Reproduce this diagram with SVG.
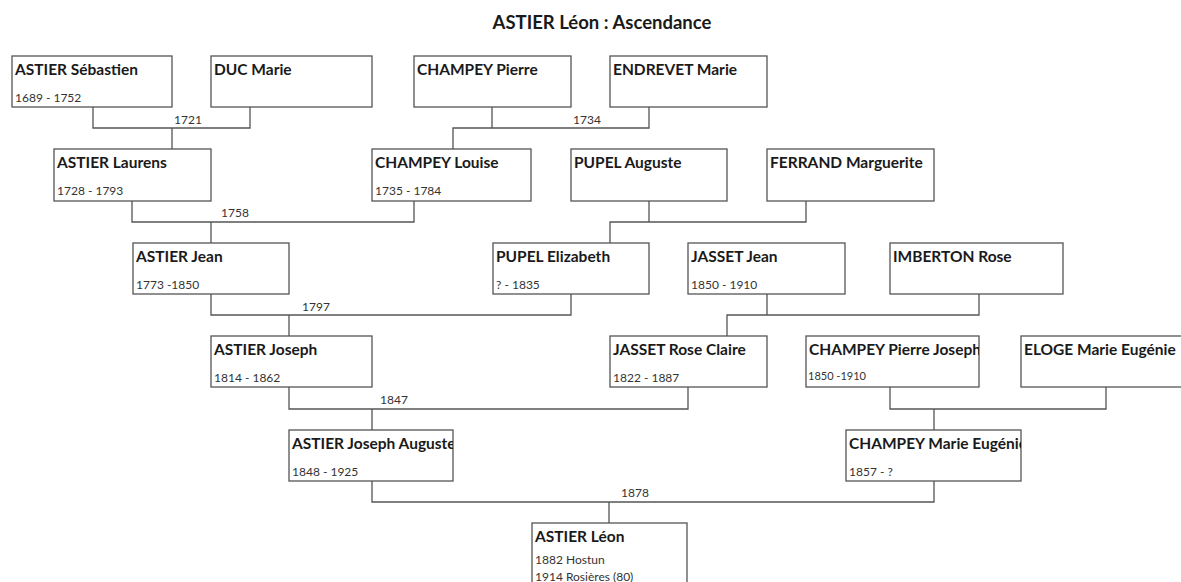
<svg xmlns="http://www.w3.org/2000/svg" width="1181" height="582" viewBox="0 0 1181 582">
  <style>
    .box { fill: #ffffff; stroke: #555555; stroke-width: 1.3; }
    .name { font-family: Lato, "Open Sans", sans-serif; font-weight: bold; font-size: 15.5px; fill: #1a1a1a; }
    .date { font-family: Lato, "Open Sans", sans-serif; font-size: 12px; fill: #333333; }
    .small { font-size: 11px; }
    .title { font-family: Lato, "Open Sans", sans-serif; font-weight: bold; font-size: 18.5px; fill: #1a1a1a; }
    .conn { fill: none; stroke: #555555; stroke-width: 1.3; }
    .lbl { font-family: Lato, "Open Sans", sans-serif; font-size: 12px; fill: #333333; }
  </style>
  <defs>
    <clipPath id="clip-pierre-joseph"><rect x="806" y="336" width="173" height="51"/></clipPath>
    <clipPath id="clip-joseph-auguste"><rect x="289" y="430" width="164" height="51"/></clipPath>
    <clipPath id="clip-marie-eugenie"><rect x="846" y="430" width="175" height="51"/></clipPath>
  </defs>
  <rect width="1181" height="582" fill="#ffffff"/>

  <text class="title" x="602" y="29" text-anchor="middle">ASTIER Léon : Ascendance</text>

  <!-- marriage links: parents' bar, child drop -->
  <g id="connectors">
    <path class="conn" d="M93,107 V128 H250 V107 M172,128 V149"/>
    <path class="conn" d="M492,107 V128 H649 V107 M492,128 H453 V149"/>
    <path class="conn" d="M132,201 V222 H414 V201 M211,222 V243"/>
    <path class="conn" d="M649,201 V222 H806 V201 M649,222 H610 V243"/>
    <path class="conn" d="M211,294 V315 H571 V294 M289,315 V336"/>
    <path class="conn" d="M767,294 V315 H979 V294 M767,315 H727 V336"/>
    <path class="conn" d="M289,387 V409 H688 V387 M372,409 V430"/>
    <path class="conn" d="M890,387 V409 H1106 V387 M934,409 V430"/>
    <path class="conn" d="M372,481 V502 H934 V481 M609,502 V523"/>
    <text class="lbl" x="174" y="124">1721</text>
    <text class="lbl" x="573" y="124">1734</text>
    <text class="lbl" x="221" y="217">1758</text>
    <text class="lbl" x="302" y="311">1797</text>
    <text class="lbl" x="380" y="404">1847</text>
    <text class="lbl" x="621" y="497">1878</text>
  </g>

  <g id="astier-sebastien">
    <rect class="box" x="12" y="56" width="160" height="51"/>
    <text class="name" x="15" y="75">ASTIER Sébastien</text>
    <text class="date" x="15" y="102">1689 - 1752</text>
  </g>
  <g id="duc-marie">
    <rect class="box" x="211" y="56" width="161" height="51"/>
    <text class="name" x="214" y="75">DUC Marie</text>
  </g>
  <g id="champey-pierre">
    <rect class="box" x="414" y="56" width="157" height="51"/>
    <text class="name" x="417" y="75">CHAMPEY Pierre</text>
  </g>
  <g id="endrevet-marie">
    <rect class="box" x="610" y="56" width="157" height="51"/>
    <text class="name" x="613" y="75">ENDREVET Marie</text>
  </g>

  <g id="astier-laurens">
    <rect class="box" x="54" y="149" width="157" height="52"/>
    <text class="name" x="57" y="168">ASTIER Laurens</text>
    <text class="date" x="57" y="195">1728 - 1793</text>
  </g>
  <g id="champey-louise">
    <rect class="box" x="372" y="149" width="159" height="52"/>
    <text class="name" x="375" y="168">CHAMPEY Louise</text>
    <text class="date" x="375" y="195">1735 - 1784</text>
  </g>
  <g id="pupel-auguste">
    <rect class="box" x="571" y="149" width="156" height="52"/>
    <text class="name" x="574" y="168">PUPEL Auguste</text>
  </g>
  <g id="ferrand-marguerite">
    <rect class="box" x="767" y="149" width="167" height="52"/>
    <text class="name" x="770" y="168">FERRAND Marguerite</text>
  </g>

  <g id="astier-jean">
    <rect class="box" x="133" y="243" width="156" height="51"/>
    <text class="name" x="136" y="262">ASTIER Jean</text>
    <text class="date" x="136" y="289">1773 -1850</text>
  </g>
  <g id="pupel-elizabeth">
    <rect class="box" x="493" y="243" width="156" height="51"/>
    <text class="name" x="496" y="262">PUPEL Elizabeth</text>
    <text class="date" x="496" y="289">? - 1835</text>
  </g>
  <g id="jasset-jean">
    <rect class="box" x="688" y="243" width="157" height="51"/>
    <text class="name" x="691" y="262">JASSET Jean</text>
    <text class="date" x="691" y="289">1850 - 1910</text>
  </g>
  <g id="imberton-rose">
    <rect class="box" x="890" y="243" width="173" height="51"/>
    <text class="name" x="893" y="262">IMBERTON Rose</text>
  </g>

  <g id="astier-joseph">
    <rect class="box" x="211" y="336" width="161" height="51"/>
    <text class="name" x="214" y="355">ASTIER Joseph</text>
    <text class="date" x="214" y="382">1814 - 1862</text>
  </g>
  <g id="jasset-rose-claire">
    <rect class="box" x="610" y="336" width="157" height="51"/>
    <text class="name" x="613" y="355">JASSET Rose Claire</text>
    <text class="date" x="613" y="382">1822 - 1887</text>
  </g>
  <g id="champey-pierre-joseph">
    <rect class="box" x="806" y="336" width="173" height="51"/>
    <g clip-path="url(#clip-pierre-joseph)">
      <text class="name" x="809" y="355">CHAMPEY Pierre Joseph</text>
    </g>
    <text class="date small" x="808" y="380">1850 -1910</text>
  </g>
  <g id="eloge-marie-eugenie">
    <rect class="box" x="1021" y="336" width="200" height="51"/>
    <text class="name" x="1024" y="355">ELOGE Marie Eugénie</text>
  </g>

  <g id="astier-joseph-auguste">
    <rect class="box" x="289" y="430" width="164" height="51"/>
    <g clip-path="url(#clip-joseph-auguste)">
      <text class="name" x="292" y="449">ASTIER Joseph Auguste</text>
    </g>
    <text class="date" x="292" y="476">1848 - 1925</text>
  </g>
  <g id="champey-marie-eugenie">
    <rect class="box" x="846" y="430" width="175" height="51"/>
    <g clip-path="url(#clip-marie-eugenie)">
      <text class="name" x="849" y="449">CHAMPEY Marie Eugénie</text>
    </g>
    <text class="date" x="849" y="476">1857 - ?</text>
  </g>

  <g id="astier-leon">
    <rect class="box" x="532" y="523" width="155" height="70"/>
    <text class="name" x="535" y="542">ASTIER Léon</text>
    <text class="date" x="535" y="564">1882 Hostun</text>
    <text class="date" x="535" y="581">1914 Rosières (80)</text>
  </g>
</svg>
